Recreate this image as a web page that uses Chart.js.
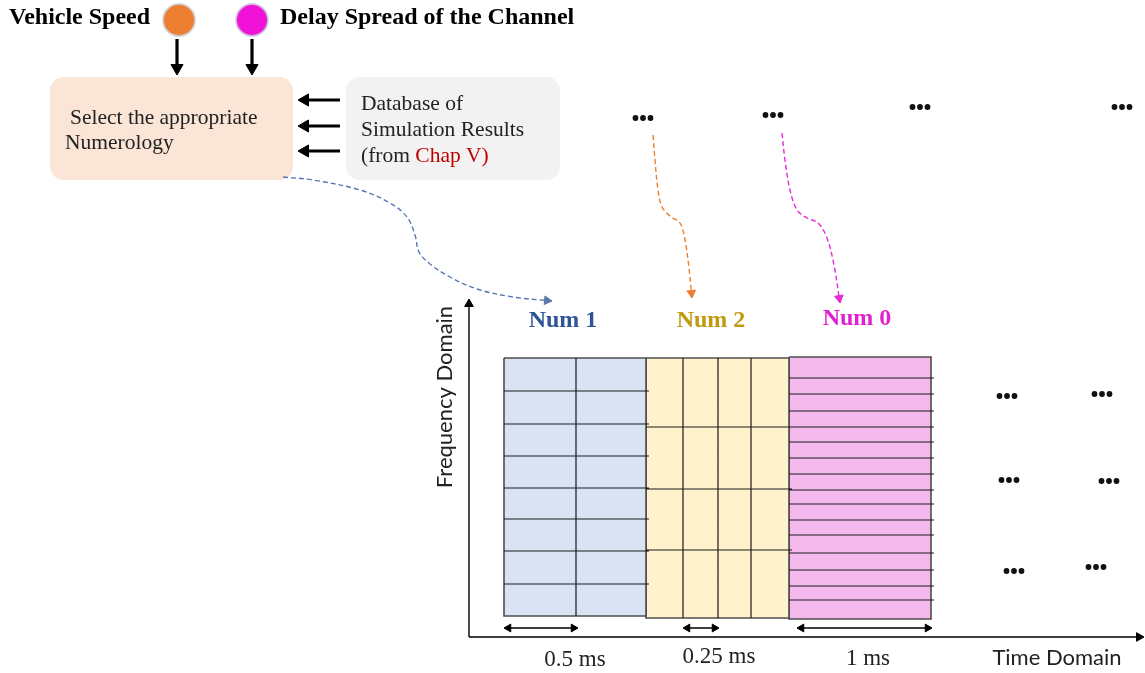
<!DOCTYPE html>
<html>
<head>
<meta charset="utf-8">
<script src="https://cdn.jsdelivr.net/npm/chart.js@4.4.1/dist/chart.umd.min.js"></script>
<style>
  html, body { margin: 0; padding: 0; background: #fff; }
  canvas { display: block; }
</style>
</head>
<body>
<canvas id="diagram" width="1145" height="673"></canvas>
<script>
// ---- diagram data (diagram units, origin top-left) ----
const inputNames = ['Vehicle Speed', 'Delay Spread of the Channel'];
const inputDots = [[179, 20], [252, 20]];
const inputArrowX = [177, 252];
const inputArrowY = [39, 75];
const dbArrowY = [100, 126, 151];
const dbArrowX = [340, 298];

const numerologies = ['Num 1', 'Num 2', 'Num 0'];
const blockX = [[504, 646], [646, 789], [789, 931]];
const blockY = [[358, 616], [358, 618], [357, 619]];
const num1Cols = [576];
const num1Rows = [391, 424, 456, 488, 519, 551, 584];
const num2Cols = [683, 718, 751];
const num2Rows = [427, 489, 550];
const num0Rows = [378, 394, 411, 427, 442, 458, 474, 490, 504, 520, 535, 553, 570, 586, 600];

const durations = ['0.5 ms', '0.25 ms', '1 ms'];
const durationSpan = [[504, 578], [683, 719], [797, 932]];

const blueCurve = [[283, 177], [313, 180], [360, 190], [390, 203], [407, 217], [415, 235], [419, 252], [430, 264], [450, 277], [477, 289], [513, 297], [552, 301]];
const orangeCurve = [[653, 135], [655, 160], [658, 190], [662, 207], [670, 216], [680, 223], [685, 240], [689, 268], [692, 298]];
const magentaCurve = [[782, 133], [785, 160], [790, 190], [797, 210], [807, 218], [818, 223], [827, 238], [834, 265], [840, 303]];

const ellipsisAt = [[643, 118], [773, 115], [920, 107], [1122, 107],
  [1007, 396], [1102, 394], [1009, 480], [1109, 481], [1014, 571], [1096, 567]];

// ---- colours ----
const inputColors = ['#ed7d31', '#f012d6'];
const blockFill = ['#dae3f3', '#fff2cc', '#f5b8ec'];
const numColors = ['#2f5597', '#c09a10', '#e21fd2'];
const curveColors = ['#5a78b0', '#ed7d31', '#e62ad6'];

const pt = (p) => ({ x: p[0], y: p[1] });
const GAP = { x: null, y: null };

// horizontal / vertical grid segments, broken by gaps
function gridLines(rows, cols, bx, by) {
  const out = [];
  rows.forEach((r) => { out.push({ x: bx[0], y: r }, { x: bx[1] + 3, y: r }, GAP); });
  cols.forEach((c) => { out.push({ x: c, y: by[0] }, { x: c, y: by[1] }, GAP); });
  return out;
}

// arrow head centred behind tip, pointing along a direction
const heads = [];
function addHead(tip, from, r, color) {
  const dx = tip[0] - from[0], dy = tip[1] - from[1];
  const len = Math.hypot(dx, dy);
  heads.push({
    x: tip[0] - dx / len * r, y: tip[1] - dy / len * r,
    rot: Math.atan2(dx, -dy) * 180 / Math.PI, r: r, color: color
  });
}

const datasets = [];

// blocks
blockX.forEach((bx, i) => {
  const by = blockY[i];
  datasets.push({
    type: 'line', order: 20,
    data: [pt([bx[0], by[0]]), pt([bx[1], by[0]]), pt([bx[1], by[1]]), pt([bx[0], by[1]]), pt([bx[0], by[0]])],
    backgroundColor: blockFill[i], borderColor: '#4d4d4d', borderWidth: 1.6,
    fill: 'shape', pointRadius: 0, tension: 0
  });
});
datasets.push({
  type: 'line', order: 10,
  data: gridLines(num1Rows, num1Cols, blockX[0], blockY[0])
    .concat(gridLines(num2Rows, num2Cols, blockX[1], blockY[1]))
    .concat(gridLines(num0Rows, [], blockX[2], blockY[2])),
  borderColor: '#1a1a1a', borderWidth: 1.2, pointRadius: 0, spanGaps: false, fill: false
});

// thick input arrows
const thick = [];
inputArrowX.forEach((x) => {
  thick.push({ x: x, y: inputArrowY[0] }, { x: x, y: inputArrowY[1] - 8 }, GAP);
  addHead([x, inputArrowY[1]], [x, inputArrowY[0]], 7, '#000');
});
dbArrowY.forEach((y) => {
  thick.push({ x: dbArrowX[0], y: y }, { x: dbArrowX[1] + 8, y: y }, GAP);
  addHead([dbArrowX[1], y], [dbArrowX[0], y], 7, '#000');
});
datasets.push({ type: 'line', order: 5, data: thick, borderColor: '#000', borderWidth: 3.2, pointRadius: 0, spanGaps: false });

// axes
const axes = [{ x: 469, y: 637 }, { x: 469, y: 306 }, GAP, { x: 469, y: 637 }, { x: 1137, y: 637 }];
addHead([469, 299], [469, 637], 5, '#000');
addHead([1144, 637], [469, 637], 5, '#000');
datasets.push({ type: 'line', order: 5, data: axes, borderColor: '#000', borderWidth: 1.4, pointRadius: 0, spanGaps: false });

// duration arrows
const spans = [];
durationSpan.forEach((s) => {
  spans.push({ x: s[0] + 4, y: 628 }, { x: s[1] - 4, y: 628 }, GAP);
  addHead([s[0], 628], [s[1], 628], 4.5, '#000');
  addHead([s[1], 628], [s[0], 628], 4.5, '#000');
});
datasets.push({ type: 'line', order: 5, data: spans, borderColor: '#000', borderWidth: 1.3, pointRadius: 0, spanGaps: false });

// dashed mapping curves
[blueCurve, orangeCurve, magentaCurve].forEach((c, i) => {
  datasets.push({
    type: 'line', order: 6, data: c.map(pt),
    borderColor: curveColors[i], borderWidth: 1.4, borderDash: [5, 3],
    pointRadius: 0, tension: 0.35, fill: false
  });
  addHead(c[c.length - 1], c[c.length - 2], 5, curveColors[i]);
});

// input circles, with a soft grey halo
datasets.push({
  type: 'scatter', order: 2, data: inputDots.map(pt),
  pointRadius: 16, pointBackgroundColor: inputColors, pointBorderColor: 'rgba(205,210,222,0.8)', pointBorderWidth: 2
});

// arrow heads
datasets.push({
  type: 'scatter', order: 1, data: heads.map((h) => ({ x: h.x, y: h.y })),
  pointStyle: 'triangle', pointRadius: heads.map((h) => h.r), pointRotation: heads.map((h) => h.rot),
  pointBackgroundColor: heads.map((h) => h.color), pointBorderColor: heads.map((h) => h.color), pointBorderWidth: 1
});

// rounded boxes and text drawn through the scales
const boxes = [[50, 293, 77, 180], [346, 560, 77, 180]];
const boxFill = ['#fbe5d6', '#f2f2f2'];

const decorPlugin = {
  id: 'decor',
  beforeDatasetsDraw(chart) {
    const { ctx, scales: { x, y } } = chart;
    ctx.save();
    boxes.forEach((b, i) => {
      const x0 = x.getPixelForValue(b[0]), x1 = x.getPixelForValue(b[1]);
      const y0 = y.getPixelForValue(b[2]), y1 = y.getPixelForValue(b[3]);
      ctx.fillStyle = boxFill[i];
      ctx.beginPath();
      ctx.roundRect(x0, y0, x1 - x0, y1 - y0, 14);
      ctx.fill();
    });
    ctx.restore();
  },
  afterDatasetsDraw(chart) {
    const { ctx, scales: { x, y } } = chart;
    const put = (t, px, py, font, color, align) => {
      ctx.font = font; ctx.fillStyle = color; ctx.textAlign = align || 'left';
      ctx.textBaseline = 'middle';
      ctx.fillText(t, x.getPixelForValue(px), y.getPixelForValue(py));
    };
    ctx.save();
    const serif = '"Liberation Serif", "Times New Roman", serif';
    const body = '21.5px ' + serif;
    put(inputNames[0], 9, 18, 'bold 24px ' + serif, '#000');
    put(inputNames[1], 280, 18, 'bold 24px ' + serif, '#000');

    put('Select the appropriate', 70, 118, body, '#222');
    put('Numerology', 65, 143, body, '#222');

    put('Database of', 361, 104, body, '#222');
    put('Simulation Results', 361, 130, body, '#222');
    put('(from ', 361, 156, body, '#222');
    ctx.font = body;
    const w = ctx.measureText('(from ').width;
    put('Chap V)', 361 + w, 156, body, '#c00000');

    const numX = [563, 711, 857], numY = [321, 321, 319];
    numerologies.forEach((n, i) => put(n, numX[i], numY[i], 'bold 24px ' + serif, numColors[i], 'center'));

    const durX = [575, 719, 868], durY = [660, 657, 659];
    durations.forEach((d, i) => put(d, durX[i], durY[i], '23px ' + serif, '#222', 'center'));

    put('Time Domain', 1057, 658, '22px Lato, sans-serif', '#222', 'center');
    ctx.save();
    ctx.translate(x.getPixelForValue(445), y.getPixelForValue(397));
    ctx.rotate(-Math.PI / 2);
    ctx.font = '22px Lato, sans-serif'; ctx.fillStyle = '#222';
    ctx.textAlign = 'center'; ctx.textBaseline = 'middle';
    ctx.fillText('Frequency Domain', 0, 0);
    ctx.restore();

    ctx.fillStyle = '#111';
    ellipsisAt.forEach((e) => {
      [-7.5, 0, 7.5].forEach((o) => {
        ctx.beginPath();
        ctx.arc(x.getPixelForValue(e[0] + o), y.getPixelForValue(e[1]), 2.9, 0, Math.PI * 2);
        ctx.fill();
      });
    });
    ctx.restore();
  }
};

new Chart(document.getElementById('diagram'), {
  type: 'scatter',
  data: { datasets: datasets },
  options: {
    responsive: false,
    animation: false,
    events: [],
    layout: { padding: 0, autoPadding: false },
    elements: { line: { borderCapStyle: 'butt' } },
    datasets: { line: { clip: false }, scatter: { clip: false } },
    scales: {
      x: { type: 'linear', min: 0, max: 1145, display: false },
      y: { type: 'linear', min: 0, max: 673, reverse: true, display: false }
    },
    plugins: { legend: { display: false }, tooltip: { enabled: false } }
  },
  plugins: [decorPlugin]
});
</script>
</body>
</html>
